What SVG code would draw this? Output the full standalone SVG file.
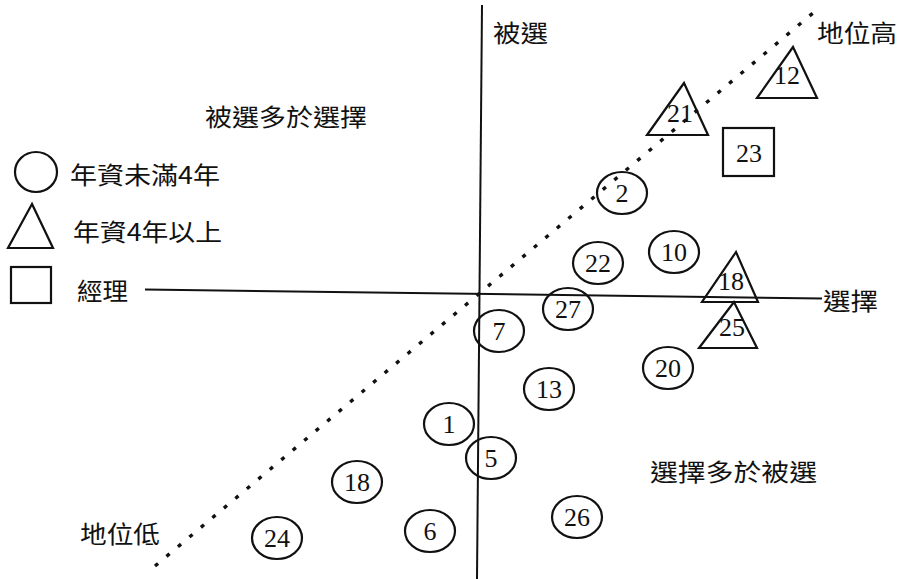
<svg xmlns="http://www.w3.org/2000/svg" width="901" height="579" viewBox="0 0 901 579">
<style>
.sh{fill:none;stroke:#111;stroke-width:2.2}
.num{font-family:"Liberation Serif","DejaVu Serif",serif;font-size:26px;fill:#111;text-anchor:middle;dominant-baseline:central}
.cjk{font-family:"Noto Sans CJK TC","Noto Sans CJK SC",sans-serif;font-size:24px;fill:#111;dominant-baseline:central}
.ax{stroke:#111;stroke-width:2;fill:none}
.dot{stroke:#111;stroke-width:3.4;fill:none;stroke-dasharray:4 11}
</style>
<rect width="901" height="579" fill="#fff"/>
<g id="connectors">
<line class="ax" x1="482" y1="5" x2="477" y2="579"/>
<line class="ax" x1="145" y1="289.5" x2="822" y2="298.5"/>
<line class="dot" x1="155" y1="566" x2="813" y2="13"/>
</g>
<g id="labels">
<text class="cjk" x="493" y="31" textLength="55" lengthAdjust="spacingAndGlyphs">被選</text>
<text class="cjk" x="817" y="31" textLength="80" lengthAdjust="spacingAndGlyphs">地位高</text>
<text class="cjk" x="205" y="115" textLength="162" lengthAdjust="spacingAndGlyphs">被選多於選擇</text>
<text class="cjk" x="823" y="299" textLength="55" lengthAdjust="spacingAndGlyphs">選擇</text>
<text class="cjk" x="650" y="470" textLength="167" lengthAdjust="spacingAndGlyphs">選擇多於被選</text>
<text class="cjk" x="80" y="532" textLength="80" lengthAdjust="spacingAndGlyphs">地位低</text>
</g>
<g id="legend">
<g id="legend-circle"><ellipse class="sh" cx="36" cy="172" rx="21" ry="20"/><text class="cjk" x="70" y="173" textLength="150" lengthAdjust="spacingAndGlyphs">年資未滿4年</text></g>
<g id="legend-triangle"><polygon class="sh" points="32,204 8,248 53,248"/><text class="cjk" x="73" y="230" textLength="149" lengthAdjust="spacingAndGlyphs">年資4年以上</text></g>
<g id="legend-square"><rect class="sh" x="11" y="267" width="40" height="36"/><text class="cjk" x="77" y="289" textLength="51" lengthAdjust="spacingAndGlyphs">經理</text></g>
</g>
<g id="n12"><polygon class="sh" points="793,47 757,98 817,98"/><text class="num" x="787" y="75">12</text></g>
<g id="n21"><polygon class="sh" points="684,83 647,135 708,135"/><text class="num" x="680" y="113">21</text></g>
<g id="n23"><rect class="sh" x="723" y="128" width="51" height="48"/><text class="num" x="749" y="153">23</text></g>
<g id="n18t"><polygon class="sh" points="736,252 702,302 758,302"/><text class="num" x="731" y="281">18</text></g>
<g id="n25"><polygon class="sh" points="734,302 699,348 757,348"/><text class="num" x="732" y="327">25</text></g>
<g id="n2"><ellipse class="sh" cx="622" cy="193" rx="25" ry="21"/><text class="num" x="622" y="193">2</text></g>
<g id="n10"><ellipse class="sh" cx="674" cy="252" rx="25" ry="21"/><text class="num" x="674" y="252">10</text></g>
<g id="n22"><ellipse class="sh" cx="598" cy="263" rx="25" ry="21"/><text class="num" x="598" y="263">22</text></g>
<g id="n27"><ellipse class="sh" cx="568" cy="309" rx="25" ry="21"/><text class="num" x="568" y="309">27</text></g>
<g id="n7"><ellipse class="sh" cx="499" cy="331" rx="25" ry="21"/><text class="num" x="499" y="331">7</text></g>
<g id="n20"><ellipse class="sh" cx="668" cy="368" rx="25" ry="21"/><text class="num" x="668" y="368">20</text></g>
<g id="n13"><ellipse class="sh" cx="549" cy="389" rx="25" ry="21"/><text class="num" x="549" y="389">13</text></g>
<g id="n1"><ellipse class="sh" cx="449" cy="424" rx="25" ry="21"/><text class="num" x="449" y="424">1</text></g>
<g id="n5"><ellipse class="sh" cx="491" cy="458" rx="25" ry="21"/><text class="num" x="491" y="458">5</text></g>
<g id="n18"><ellipse class="sh" cx="357" cy="482" rx="25" ry="21"/><text class="num" x="357" y="482">18</text></g>
<g id="n26"><ellipse class="sh" cx="577" cy="517" rx="25" ry="21"/><text class="num" x="577" y="517">26</text></g>
<g id="n24"><ellipse class="sh" cx="277" cy="538" rx="25" ry="21"/><text class="num" x="277" y="538">24</text></g>
<g id="n6"><ellipse class="sh" cx="430" cy="531" rx="25" ry="21"/><text class="num" x="430" y="531">6</text></g>
</svg>
